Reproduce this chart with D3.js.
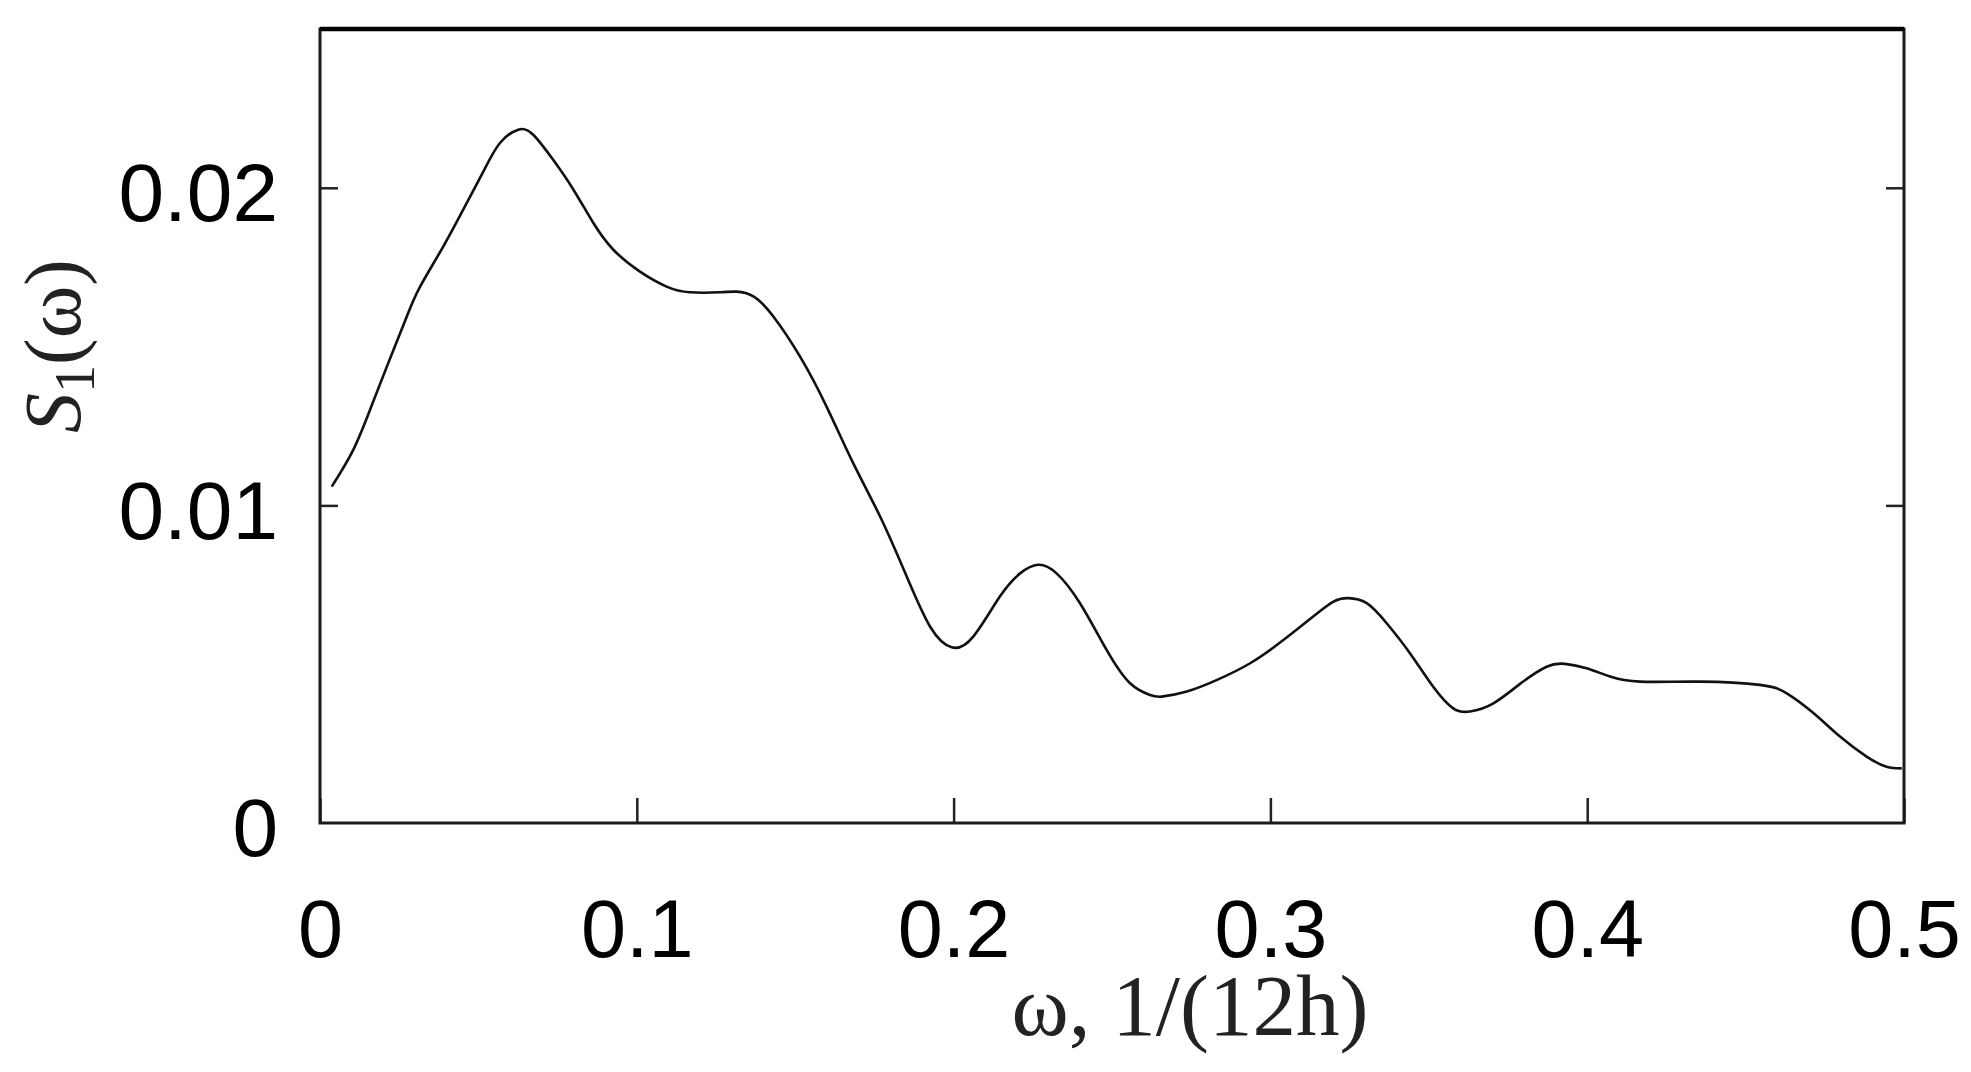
<!DOCTYPE html>
<html>
<head>
<meta charset="utf-8">
<script src="https://cdn.jsdelivr.net/npm/d3@7"></script>
<style>
  html, body { margin: 0; padding: 0; background: #fff; }
  svg { display: block; }
</style>
</head>
<body>
<svg id="chart" width="1971" height="1072"></svg>
<script>
// ---- data ----
const omega = [0.0037,0.0105,0.0158,0.0211,0.0274,0.0316,0.0389,0.0452,0.0515,0.0568,0.0626,0.0673,0.0736,0.0800,0.0863,0.0926,0.1010,0.1094,0.1168,0.1263,0.1315,0.1368,0.1431,0.1515,0.1599,0.1683,0.1768,0.1852,0.1926,0.1994,0.2062,0.2146,0.2210,0.2267,0.2325,0.2399,0.2483,0.2557,0.2620,0.2657,0.2736,0.2830,0.2936,0.3041,0.3135,0.3199,0.3246,0.3304,0.3367,0.3441,0.3514,0.3577,0.3630,0.3704,0.3788,0.3872,0.3930,0.3998,0.4072,0.4167,0.4356,0.4545,0.4630,0.4714,0.4798,0.4882,0.4945,0.4993];
const spectrum = [0.01059,0.01175,0.01301,0.01437,0.01595,0.01689,0.01815,0.01931,0.02050,0.02141,0.02183,0.02167,0.02088,0.01994,0.01889,0.01805,0.01736,0.01689,0.01671,0.01671,0.01673,0.01658,0.01595,0.01469,0.01311,0.01133,0.00965,0.00776,0.00618,0.00553,0.00587,0.00713,0.00786,0.00813,0.00786,0.00692,0.00545,0.00440,0.00403,0.00398,0.00414,0.00450,0.00503,0.00576,0.00650,0.00697,0.00708,0.00692,0.00629,0.00534,0.00429,0.00361,0.00351,0.00377,0.00438,0.00492,0.00501,0.00487,0.00461,0.00445,0.00445,0.00435,0.00408,0.00346,0.00272,0.00209,0.00177,0.00172];
const xTicks = [0, 0.1, 0.2, 0.3, 0.4, 0.5];
const xTickLabels = ["0", "0.1", "0.2", "0.3", "0.4", "0.5"];
const yTicks = [0, 0.01, 0.02];
const yTickLabels = ["0", "0.01", "0.02"];
const xDomain = [0, 0.5];
const yDomain = [0, 0.025];

// ---- layout ----
const L = 320, R = 1904, T = 29, B = 823;
const svg = d3.select("#chart");
const x = d3.scaleLinear().domain(xDomain).range([L, R]);
const y = d3.scaleLinear().domain(yDomain).range([B, T]);

const sans = "'Liberation Sans', Arial, Helvetica, sans-serif";
const serif = "'Liberation Serif', 'Times New Roman', serif";

// curve
const pts = omega.map((w, i) => [w, spectrum[i]]);
svg.append("path")
  .datum(pts)
  .attr("fill", "none")
  .attr("stroke", "#111")
  .attr("stroke-width", 2.6)
  .attr("stroke-linejoin", "round")
  .attr("d", d3.line().x(d => x(d[0])).y(d => y(d[1])).curve(d3.curveNatural));

// axes
const xAxis = d3.axisBottom(x).tickValues(xTicks).tickSize(-25).tickPadding(0)
  .tickFormat((d, i) => xTickLabels[i]);
const gx = svg.append("g").attr("transform", `translate(0,${B})`).call(xAxis);
gx.select(".domain").remove();
gx.selectAll(".tick line").attr("stroke", "#222").attr("stroke-width", 2.5);
gx.selectAll(".tick text")
  .attr("font-family", sans).attr("font-size", 81).attr("fill", "#000")
  .attr("dy", null).attr("y", 0).attr("dominant-baseline", "auto")
  .attr("transform", "translate(0,134)");

const yAxis = d3.axisLeft(y).tickValues(yTicks).tickSize(-18).tickPadding(42)
  .tickFormat((d, i) => yTickLabels[i]);
const gy = svg.append("g").attr("transform", `translate(${L},0)`).call(yAxis);
gy.select(".domain").remove();
gy.selectAll(".tick line").attr("stroke", "#222").attr("stroke-width", 2.5);
gy.selectAll(".tick text")
  .attr("font-family", sans).attr("font-size", 82).attr("fill", "#000")
  .attr("dy", "0.4em");
gy.selectAll(".tick").filter(d => d === 0).select("line").remove();

// right ticks
const yAxisR = d3.axisRight(y).tickValues(yTicks.filter(d => d > 0)).tickSize(-18).tickFormat("");
const gyr = svg.append("g").attr("transform", `translate(${R},0)`).call(yAxisR);
gyr.select(".domain").remove();
gyr.selectAll(".tick line").attr("stroke", "#222").attr("stroke-width", 2.5);

// frame
svg.append("rect")
  .attr("x", L).attr("y", T).attr("width", R - L).attr("height", B - T)
  .attr("fill", "none").attr("stroke", "#1a1a1a").attr("stroke-width", 3);
svg.append("line").attr("x1", L).attr("x2", R).attr("y1", T).attr("y2", T)
  .attr("stroke", "#000").attr("stroke-width", 4.5);

// x label
svg.append("text")
  .attr("x", 1190).attr("y", 1035)
  .attr("text-anchor", "middle")
  .attr("font-family", serif).attr("font-size", 87).attr("fill", "#222")
  .text("ω, 1/(12h)");

// y label
const yl = svg.append("text")
  .attr("transform", "translate(80,346) rotate(-90)")
  .attr("text-anchor", "middle")
  .attr("font-family", serif).attr("font-size", 80).attr("fill", "#222");
yl.append("tspan").attr("font-style", "italic").text("S");
yl.append("tspan").attr("font-size", 56).attr("dy", 14).text("1");
yl.append("tspan").attr("dy", -14).text("(ω)");
</script>
</body>
</html>
